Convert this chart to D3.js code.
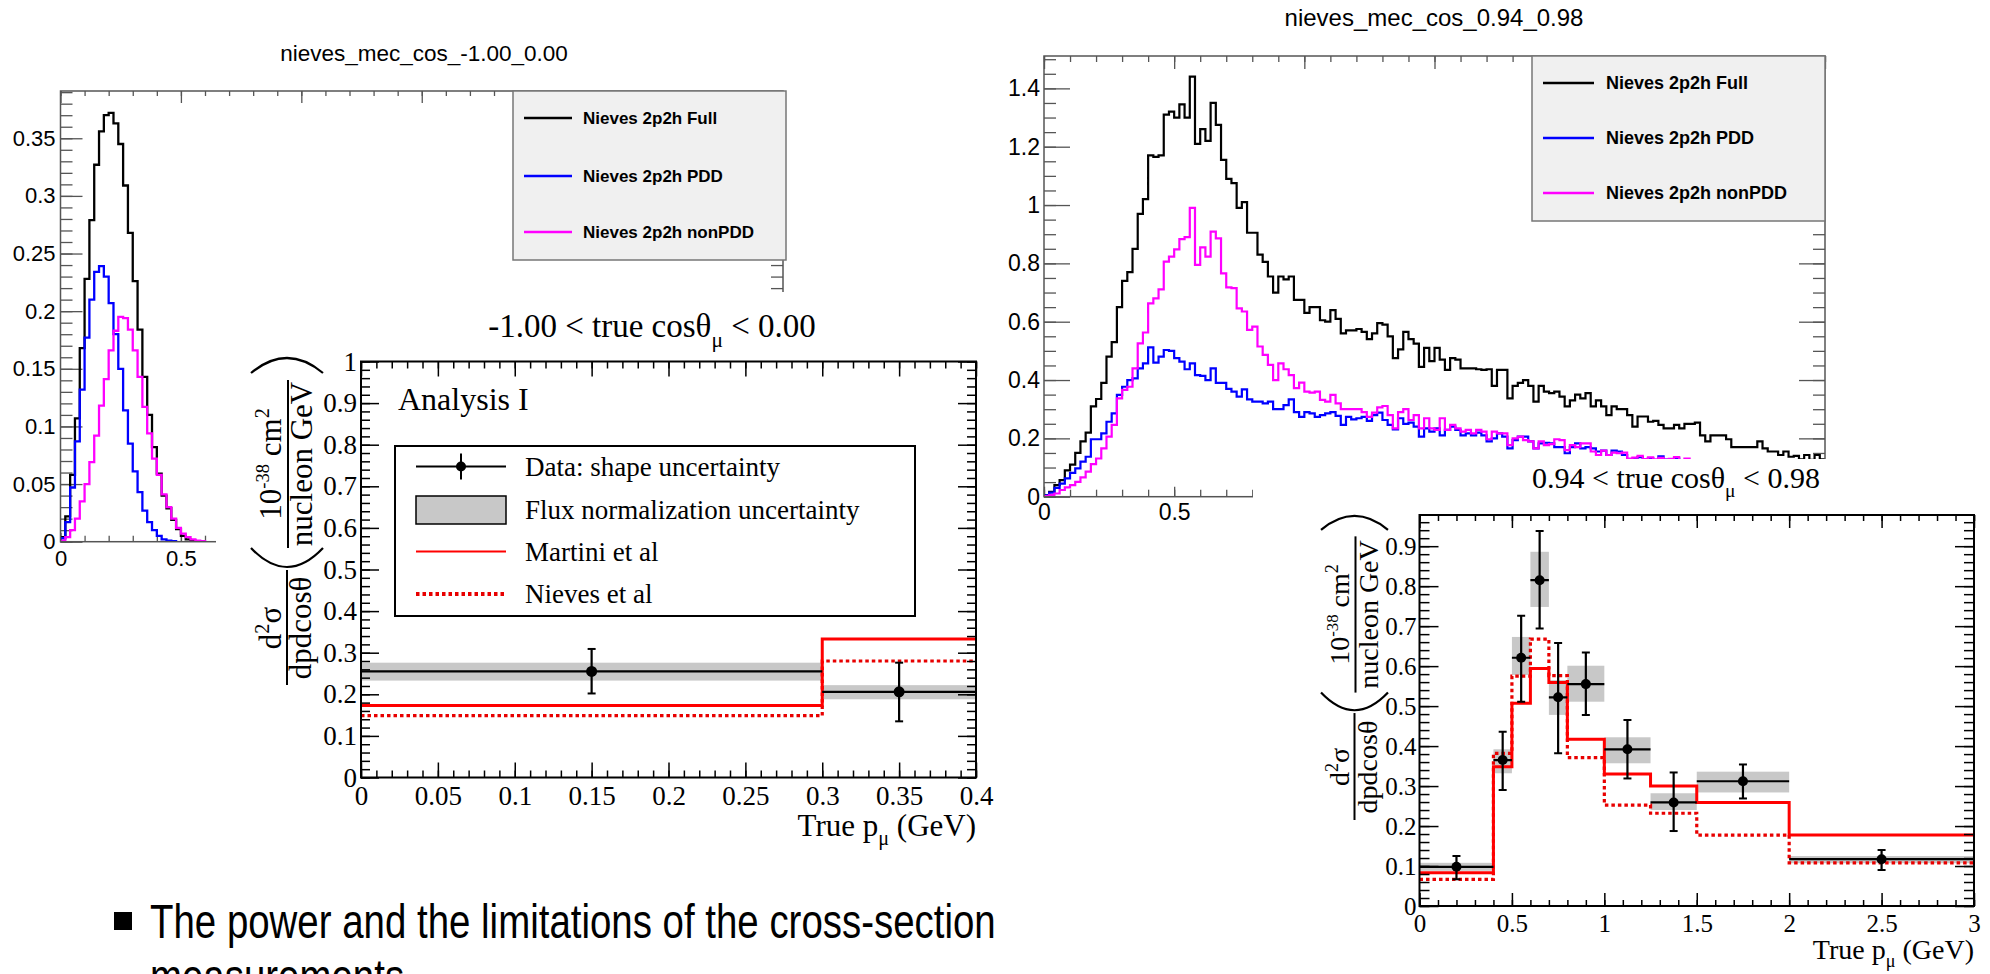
<!DOCTYPE html>
<html><head><meta charset="utf-8">
<script src="https://cdn.jsdelivr.net/npm/d3@7"></script>
<style>body{margin:0;background:#fff;}svg{display:block;}</style>
</head><body>
<svg id="c" width="1990" height="974"></svg>
<script>
// ===================== DATA =====================
// top-left histogram (-1.00 < cos < 0.00), bin width 0.02 GeV
const tlBinWidth = 0.02;
const tlFull = [0.004,0.022,0.058,0.107,0.168,0.228,0.279,0.327,0.356,0.370,0.372,0.363,0.345,0.309,0.268,0.226,0.184,0.143,0.110,0.082,0.059,0.040,0.029,0.019,0.011,0.005,0.002,0.001];
const tlPDD = [0.003,0.017,0.047,0.087,0.132,0.177,0.210,0.234,0.239,0.230,0.207,0.180,0.150,0.114,0.085,0.061,0.043,0.027,0.017,0.010,0.005,0.002,0.001,0.0005];
const tlNonPDD = [0.001,0.004,0.010,0.020,0.035,0.050,0.069,0.092,0.118,0.141,0.166,0.183,0.195,0.194,0.184,0.166,0.143,0.117,0.094,0.072,0.058,0.041,0.030,0.020,0.012,0.007,0.004,0.002,0.001,0.0005];
const tlYTicks = [0,0.05,0.1,0.15,0.2,0.25,0.3,0.35];
const tlXMajor = [0,0.5,1,1.5,2,2.5,3];
const tlXTickLabels = [0,0.5];          // the others are hidden behind the pasted plot
const tlTitle = "nieves_mec_cos_-1.00_0.00";

// top-right histogram (0.94 < cos < 0.98), bin width 0.02 GeV
const trBinWidth = 0.02;
const trFull = [0.005,0.017,0.04,0.057,0.09,0.11,0.15,0.19,0.22,0.31,
0.335,0.39,0.48,0.53,0.65,0.74,0.77,0.85,0.97,1.02,
1.17,1.165,1.17,1.31,1.32,1.30,1.345,1.30,1.44,1.21,
1.26,1.22,1.35,1.275,1.155,1.09,1.075,0.99,1.01,0.905,
0.905,0.83,0.805,0.755,0.70,0.755,0.745,0.755,0.675,0.675,
0.63,0.65,0.65,0.605,0.60,0.64,0.61,0.56,0.57,0.57,
0.575,0.565,0.54,0.56,0.595,0.59,0.55,0.475,0.505,0.565,
0.54,0.525,0.445,0.51,0.465,0.51,0.47,0.435,0.475,0.47,
0.44,0.44,0.44,0.437,0.435,0.437,0.38,0.435,
0.435,0.337,0.38,0.39,0.40,0.38,0.326,0.38,0.36,0.355,
0.36,0.343,0.31,0.33,0.35,0.337,0.355,0.31,0.33,0.31,
0.28,0.31,0.30,0.30,0.28,0.24,0.275,0.275,0.257,0.26,
0.246,0.234,0.234,0.246,0.234,0.25,0.25,0.254,0.21,0.19,
0.21,0.21,0.21,0.197,0.17,0.17,0.17,0.17,0.17,0.19,
0.166,0.155,0.155,0.143,0.155,0.137,0.14,0.128,0.143,0.126,
0.143,0.128];
const trPDD = [0.005,0.014,0.03,0.045,0.063,0.082,0.097,0.12,0.137,0.197,
0.197,0.217,0.257,0.286,0.349,0.377,0.40,0.406,0.44,0.457,
0.512,0.46,0.48,0.503,0.50,0.475,0.463,0.437,0.457,0.417,
0.414,0.40,0.44,0.39,0.39,0.37,0.36,0.343,0.368,0.334,
0.326,0.326,0.32,0.326,0.30,0.30,0.314,0.334,0.29,0.274,
0.29,0.286,0.274,0.28,0.286,0.29,0.277,0.246,0.274,0.265,
0.269,0.274,0.26,0.28,0.288,0.263,0.246,0.231,0.269,0.25,
0.254,0.24,0.206,0.234,0.223,0.234,0.21,0.229,0.24,0.229,
0.21,0.217,0.21,0.22,0.21,0.19,0.20,0.217,
0.206,0.166,0.194,0.206,0.206,0.19,0.166,0.183,0.185,0.183,
0.17,0.17,0.149,0.17,0.183,0.166,0.17,0.166,0.155,0.158,
0.143,0.158,0.155,0.143,0.128,0.13,0.136,0.128,0.132,0.125,
0.138,0.127,0.124,0.131,0.122,0.12,0.125,0.118];
const trNonPDD = [0.002,0.006,0.011,0.023,0.032,0.04,0.051,0.066,0.086,0.112,
0.131,0.166,0.206,0.246,0.337,0.366,0.377,0.44,0.526,0.563,
0.663,0.68,0.711,0.806,0.823,0.848,0.883,0.89,0.99,0.795,
0.855,0.823,0.909,0.886,0.766,0.718,0.715,0.646,0.635,0.572,
0.583,0.515,0.486,0.452,0.40,0.457,0.437,0.417,0.372,0.391,
0.36,0.357,0.36,0.332,0.326,0.349,0.32,0.30,0.30,0.30,
0.30,0.29,0.274,0.288,0.306,0.311,0.28,0.234,0.29,0.30,
0.263,0.28,0.234,0.269,0.234,0.229,0.269,0.229,0.246,0.234,
0.223,0.229,0.217,0.229,0.223,0.197,0.223,0.217,
0.217,0.177,0.20,0.206,0.194,0.19,0.166,0.19,0.177,0.18,
0.197,0.194,0.16,0.177,0.17,0.183,0.183,0.155,0.143,0.158,
0.143,0.151,0.149,0.151,0.131,0.134,0.14,0.129,0.135,0.128,
0.133,0.127,0.13,0.136,0.125,0.131,0.124,0.12];
const trYTicks = [0,0.2,0.4,0.6,0.8,1,1.2,1.4];
const trXMajor = [0,0.5,1,1.5,2,2.5,3];
const trXTickLabels = [0,0.5];          // the others are hidden behind the pasted plot
const trTitle = "nieves_mec_cos_0.94_0.98";
const histLegend = ["Nieves 2p2h Full","Nieves 2p2h PDD","Nieves 2p2h nonPDD"];

// bottom-left cross section (-1.00 < cos < 0.00)
const blEdges = [0,0.3,0.4];
const blData = [0.255,0.206];
const blErrLo = [0.202,0.135];
const blErrHi = [0.309,0.276];
const blBandLo = [0.233,0.188];
const blBandHi = [0.276,0.222];
const blMartini = [0.173,0.333];
const blNieves = [0.1485,0.280];
const blXTicks = [0,0.05,0.1,0.15,0.2,0.25,0.3,0.35,0.4];
const blYTicks = [0,0.1,0.2,0.3,0.4,0.5,0.6,0.7,0.8,0.9,1];
const blTitle = ["-1.00 < true cos\u03B8","\u03BC"," < 0.00"];
const xsecLegend = ["Data: shape uncertainty","Flux normalization uncertainty","Martini et al","Nieves et al"];

// bottom-right cross section (0.94 < cos < 0.98)
const brEdges = [0,0.4,0.5,0.6,0.7,0.8,1.0,1.25,1.5,2.0,3.0];
const brData = [0.098,0.365,0.621,0.815,0.522,0.555,0.392,0.259,0.312,0.117];
const brErrLo = [0.067,0.29,0.511,0.694,0.382,0.478,0.319,0.1875,0.269,0.09];
const brErrHi = [0.125,0.436,0.726,0.938,0.658,0.634,0.465,0.334,0.354,0.14];
const brBandLo = [0.088,0.332,0.578,0.748,0.478,0.511,0.357,0.240,0.284,0.107];
const brBandHi = [0.108,0.392,0.673,0.886,0.565,0.601,0.422,0.282,0.336,0.125];
const brMartini = [0.083,0.348,0.507,0.594,0.559,0.417,0.33,0.30,0.259,0.1775];
const brNieves = [0.0667,0.382,0.575,0.6675,0.576,0.371,0.2525,0.232,0.1775,0.108];
const brXTicks = [0,0.5,1,1.5,2,2.5,3];
const brYTicks = [0,0.1,0.2,0.3,0.4,0.5,0.6,0.7,0.8,0.9];
const brTitle = ["0.94 < true cos\u03B8","\u03BC"," < 0.98"];

const bulletLines = ["The power and the limitations of the cross-section","measurements"];

// ===================== DRAWING =====================
const SANS = "'Liberation Sans', Arial, sans-serif";
const SERIF = "'Liberation Serif', 'Times New Roman', serif";
const histColors = ["#000000","#0000ff","#ff00ff"];
const svg = d3.select('#c');
const fmt = d3.format("~g");
let clipId = 0;

function addAxis(parent, orient, scale, pos, values, len, o = {}) {
  const gen = {bottom:d3.axisBottom, top:d3.axisTop, left:d3.axisLeft, right:d3.axisRight}[orient](scale)
    .tickValues(values).tickSizeInner(-len).tickSizeOuter(0)
    .tickFormat(o.labels ? fmt : () => "").tickPadding(o.pad ?? 3);
  const tr = (orient === 'bottom' || orient === 'top') ? `translate(0,${pos})` : `translate(${pos},0)`;
  const g = parent.append('g').attr('transform', tr).call(gen);
  g.select('.domain').remove();
  g.attr('font-size', null).attr('font-family', null);
  g.selectAll('.tick line').attr('stroke', o.color || '#000').attr('stroke-width', o.sw || 1.5);
  g.selectAll('.tick text').filter(function () { return !this.textContent; }).remove();
  if (o.noLines) g.selectAll('.tick line').remove();
  g.selectAll('.tick text').attr('fill', '#000').style('font-family', o.font || SANS).style('font-size', (o.fs || 20) + 'px');
  return g;
}
function rng(a, b, s) { const out = []; for (let v = a; v <= b + 1e-9; v += s) out.push(+v.toFixed(4)); return out; }
function clip(parent, x0, y0, x1, y1) {
  const id = 'clip' + (clipId++);
  parent.append('clipPath').attr('id', id).append('rect').attr('x', x0).attr('y', y1).attr('width', x1 - x0).attr('height', y0 - y1);
  return 'url(#' + id + ')';
}
function histPts(vals, bw, closeEnd) {
  const p = [[0, 0]];
  vals.forEach((v, i) => p.push([i * bw, v]));
  p.push([vals.length * bw, vals[vals.length - 1]]);
  if (closeEnd) p.push([vals.length * bw, 0]);
  return p;
}
function stepPts(edges, vals) {
  const p = vals.map((v, i) => [edges[i], v]);
  p.push([edges[edges.length - 1], vals[vals.length - 1]]);
  return p;
}

// ---------- Histogram panel (ROOT style) ----------
function histPanel(o) {
  const g = svg.append('g');
  const x = d3.scaleLinear().domain(o.xDomain).range([o.x0, o.x1]);
  const y = d3.scaleLinear().domain(o.yDomain).range([o.y0, o.y1]);
  const fc = '#555';
  addAxis(g, 'left', y, o.x0, rng(0, o.yDomain[1], o.yMinor), o.yMinLen, {color: fc, sw: 1.3});
  addAxis(g, 'left', y, o.x0, o.yTicks, o.yMajLen, {color: fc, sw: 1.3, labels: true, pad: o.yPad, fs: o.fs});
  addAxis(g, 'right', y, o.x1, rng(0, o.yDomain[1], o.yMinor), o.yMinLen, {color: fc, sw: 1.3});
  addAxis(g, 'right', y, o.x1, o.yTicks, o.yMajLen, {color: fc, sw: 1.3});
  addAxis(g, 'bottom', x, o.y0, rng(0, 3, 0.1), o.xMinLen, {color: fc, sw: 1.3});
  addAxis(g, 'bottom', x, o.y0, o.xMajor, o.xMajLen, {color: fc, sw: 1.3});
  addAxis(g, 'bottom', x, o.y0, o.xLabels, o.xMajLen, {labels: true, noLines: true, pad: o.xPad, fs: o.fs});
  addAxis(g, 'top', x, o.y1, rng(0, 3, 0.1), o.xMinLen - 1, {color: fc, sw: 1.3});
  addAxis(g, 'top', x, o.y1, o.xMajor, o.xMajLen + 3, {color: fc, sw: 1.3});
  const cp = clip(g, o.x0, o.y0, o.x1, o.y1);
  const line = d3.line().x(d => x(d[0])).y(d => y(d[1])).curve(d3.curveStepAfter);
  o.series.forEach((s, i) => {
    g.append('path').attr('clip-path', cp).attr('d', line(histPts(s, o.bw, o.closeEnd)))
      .attr('fill', 'none').attr('stroke', histColors[i]).attr('stroke-width', o.lw);
  });
  g.append('rect').attr('x', o.x0).attr('y', o.y1).attr('width', o.x1 - o.x0).attr('height', o.y0 - o.y1)
    .attr('fill', 'none').attr('stroke', fc).attr('stroke-width', 1.5);
  g.append('text').attr('x', o.titleX).attr('y', o.titleY).attr('text-anchor', 'middle')
    .style('font-family', SANS).style('font-size', o.titleFs + 'px').text(o.title);
  const L = o.legend;
  g.append('rect').attr('x', L.x0).attr('y', L.y0).attr('width', L.x1 - L.x0).attr('height', L.y1 - L.y0)
    .attr('fill', '#f0f0f0').attr('stroke', '#777').attr('stroke-width', 1.5);
  histLegend.forEach((name, i) => {
    const yy = L.rows[i];
    g.append('line').attr('x1', L.lx0).attr('x2', L.lx1).attr('y1', yy).attr('y2', yy)
      .attr('stroke', histColors[i]).attr('stroke-width', 2.5);
    g.append('text').attr('x', L.tx).attr('y', yy + L.fs * 0.36)
      .style('font-family', SANS).style('font-weight', 'bold').style('font-size', L.fs + 'px').text(name);
  });
}

histPanel({
  x0: 60.5, x1: 783, y0: 541.7, y1: 91, xDomain: [0, 3], yDomain: [0, 0.391],
  series: [tlFull, tlPDD, tlNonPDD], bw: tlBinWidth, closeEnd: true, lw: 2.3,
  yTicks: tlYTicks, yMinor: 0.01, yMajLen: 22, yMinLen: 12, yPad: 5,
  xMajor: tlXMajor, xLabels: tlXTickLabels, xMajLen: 9, xMinLen: 6, xPad: 9, fs: 22,
  title: tlTitle, titleX: 424, titleY: 61, titleFs: 22.5,
  legend: {x0: 513, x1: 786, y0: 91, y1: 260, rows: [118, 176, 232], lx0: 524, lx1: 572, tx: 583, fs: 17}
});
histPanel({
  x0: 1044, x1: 1825, y0: 496.7, y1: 56, xDomain: [0, 3], yDomain: [0, 1.511],
  series: [trFull, trPDD, trNonPDD], bw: trBinWidth, closeEnd: false, lw: 2.2,
  yTicks: trYTicks, yMinor: 0.05, yMajLen: 26, yMinLen: 12, yPad: 4,
  xMajor: trXMajor, xLabels: trXTickLabels, xMajLen: 10, xMinLen: 7, xPad: 7, fs: 23,
  title: trTitle, titleX: 1434, titleY: 26, titleFs: 24,
  legend: {x0: 1532, x1: 1825, y0: 56, y1: 221, rows: [83, 138, 193], lx0: 1543, lx1: 1594, tx: 1606, fs: 18}
});

// ---------- white backgrounds of the pasted plots ----------
svg.append('rect').attr('x', 216).attr('y', 292).attr('width', 787).attr('height', 590).attr('fill', '#fff');
svg.append('rect').attr('x', 1253).attr('y', 459).attr('width', 737).attr('height', 515).attr('fill', '#fff');

// ---------- rotated y label ----------
function yLabel(barX, bottomY, s, fs) {
  const g = svg.append('g').attr('transform', `translate(${barX},${bottomY}) rotate(-90)`)
    .style('font-family', SERIF).style('font-size', fs + 'px').attr('fill', '#000');
  const sw = 2;
  g.append('line').attr('x1', 0).attr('x2', 115 * s).attr('y1', 0).attr('y2', 0).attr('stroke', '#000').attr('stroke-width', sw);
  const n1 = g.append('text').attr('x', 57 * s).attr('y', -6 * s).attr('text-anchor', 'middle');
  n1.append('tspan').text('d');
  n1.append('tspan').attr('dy', -0.38 * fs).style('font-size', (0.65 * fs) + 'px').text('2');
  n1.append('tspan').attr('dy', 0.38 * fs).text('\u03C3');
  g.append('text').attr('x', 57 * s).attr('y', 24 * s).attr('text-anchor', 'middle').text('dpdcos\u03B8');
  g.append('path').attr('d', `M${137 * s},${-36 * s} Q${99 * s},0 ${137 * s},${36 * s}`).attr('fill', 'none').attr('stroke', '#000').attr('stroke-width', 2.2);
  g.append('path').attr('d', `M${312 * s},${-36 * s} Q${342 * s},0 ${312 * s},${36 * s}`).attr('fill', 'none').attr('stroke', '#000').attr('stroke-width', 2.2);
  g.append('line').attr('x1', 137 * s).attr('x2', 305 * s).attr('y1', 1).attr('y2', 1).attr('stroke', '#000').attr('stroke-width', sw);
  const n2 = g.append('text').attr('x', 221 * s).attr('y', -6 * s).attr('text-anchor', 'middle');
  n2.append('tspan').text('10');
  n2.append('tspan').attr('dy', -0.4 * fs).style('font-size', (0.6 * fs) + 'px').text('-38');
  n2.append('tspan').attr('dy', 0.4 * fs).text(' cm');
  n2.append('tspan').attr('dy', -0.4 * fs).style('font-size', (0.65 * fs) + 'px').text('2');
  g.append('text').attr('x', 221 * s).attr('y', 25 * s).attr('text-anchor', 'middle').text('nucleon GeV');
}

// ---------- cross-section panel ----------
function xsecPanel(o) {
  const g = svg.append('g');
  const x = d3.scaleLinear().domain(o.xDomain).range([o.x0, o.x1]);
  const y = d3.scaleLinear().domain(o.yDomain).range([o.y0, o.y1]);
  const cp = clip(g, o.x0, o.y0, o.x1, o.y1);
  const pg = g.append('g').attr('clip-path', cp);
  const n = o.data.length;
  const E = o.edges;
  for (let i = 0; i < n; i++) {
    pg.append('rect').attr('x', x(E[i])).attr('width', x(E[i + 1]) - x(E[i]))
      .attr('y', y(o.bandHi[i])).attr('height', y(o.bandLo[i]) - y(o.bandHi[i])).attr('fill', '#c8c8c8');
  }
  const line = d3.line().x(d => x(d[0])).y(d => y(d[1])).curve(d3.curveStepAfter);
  pg.append('path').attr('d', line(stepPts(E, o.nieves))).attr('fill', 'none').attr('stroke', '#e80000')
    .attr('stroke-width', 3.2).attr('stroke-dasharray', '3.5,3');
  pg.append('path').attr('d', line(stepPts(E, o.martini))).attr('fill', 'none').attr('stroke', '#ff0000')
    .attr('stroke-width', 3);
  for (let i = 0; i < n; i++) {
    const cx = x((E[i] + E[i + 1]) / 2);
    pg.append('line').attr('x1', x(E[i])).attr('x2', x(E[i + 1])).attr('y1', y(o.data[i])).attr('y2', y(o.data[i]))
      .attr('stroke', '#000').attr('stroke-width', 2.2);
    pg.append('line').attr('x1', cx).attr('x2', cx).attr('y1', y(o.errLo[i])).attr('y2', y(o.errHi[i]))
      .attr('stroke', '#000').attr('stroke-width', 2.2);
    [o.errLo[i], o.errHi[i]].forEach(v => pg.append('line').attr('x1', cx - 4).attr('x2', cx + 4)
      .attr('y1', y(v)).attr('y2', y(v)).attr('stroke', '#000').attr('stroke-width', 2));
    pg.append('circle').attr('cx', cx).attr('cy', y(o.data[i])).attr('r', o.r).attr('fill', '#000');
  }
  addAxis(g, 'left', y, o.x0, rng(0, o.yDomain[1], 0.02), o.yMinLen, {});
  addAxis(g, 'left', y, o.x0, o.yTicks, o.yMajLen, {labels: true, pad: o.yPad, fs: o.fs, font: SERIF});
  addAxis(g, 'right', y, o.x1, rng(0, o.yDomain[1], 0.02), o.yMinLen, {});
  addAxis(g, 'right', y, o.x1, o.yTicks, o.yMajLen, {});
  addAxis(g, 'bottom', x, o.y0, rng(0, o.xDomain[1], o.xMinor), o.xMinLen, {});
  addAxis(g, 'bottom', x, o.y0, o.xTicks, o.xMajLen, {labels: true, pad: o.xPad, fs: o.fs, font: SERIF});
  addAxis(g, 'top', x, o.y1, rng(0, o.xDomain[1], o.xMinor), o.xMinLen, {});
  addAxis(g, 'top', x, o.y1, o.xTicks, o.xMajLen, {});
  g.append('rect').attr('x', o.x0).attr('y', o.y1).attr('width', o.x1 - o.x0).attr('height', o.y0 - o.y1)
    .attr('fill', 'none').attr('stroke', '#000').attr('stroke-width', 2);
  const t = g.append('text').attr('x', o.titleX).attr('y', o.titleY).attr('text-anchor', 'middle')
    .style('font-family', SERIF).style('font-size', o.titleFs + 'px');
  t.append('tspan').text(o.title[0]);
  t.append('tspan').attr('dy', 0.3 * o.titleFs).style('font-size', (0.65 * o.titleFs) + 'px').text(o.title[1]);
  t.append('tspan').attr('dy', -0.3 * o.titleFs).text(o.title[2]);
  const xl = g.append('text').attr('x', o.x1).attr('y', o.xlabY).attr('text-anchor', 'end')
    .style('font-family', SERIF).style('font-size', o.xlabFs + 'px');
  xl.append('tspan').text('True p');
  xl.append('tspan').attr('dy', 0.3 * o.xlabFs).style('font-size', (0.65 * o.xlabFs) + 'px').text('\u03BC');
  xl.append('tspan').attr('dy', -0.3 * o.xlabFs).text(' (GeV)');
  return {g, x, y};
}

const bl = xsecPanel({
  x0: 361, x1: 976, y0: 777.5, y1: 361.5, xDomain: [0, 0.4], yDomain: [0, 1],
  edges: blEdges, data: blData, errLo: blErrLo, errHi: blErrHi, bandLo: blBandLo, bandHi: blBandHi,
  martini: blMartini, nieves: blNieves, r: 5.5,
  yTicks: blYTicks, yMajLen: 18, yMinLen: 9, yPad: 4, xTicks: blXTicks, xMinor: 0.01, xMajLen: 15, xMinLen: 7, xPad: 8, fs: 27,
  title: blTitle, titleX: 652, titleY: 337, titleFs: 33, xlabY: 836, xlabFs: 31
});
yLabel(287, 685, 1, 31);

{
  const g = bl.g;
  g.append('text').attr('x', 398).attr('y', 410).style('font-family', SERIF).style('font-size', '32px').text('Analysis I');
  g.append('rect').attr('x', 395).attr('y', 446).attr('width', 520).attr('height', 170).attr('fill', '#fff').attr('stroke', '#000').attr('stroke-width', 2);
  const rows = [466.5, 510, 551.6, 594];
  g.append('line').attr('x1', 416).attr('x2', 506).attr('y1', rows[0]).attr('y2', rows[0]).attr('stroke', '#000').attr('stroke-width', 2);
  g.append('line').attr('x1', 461).attr('x2', 461).attr('y1', rows[0] - 13).attr('y2', rows[0] + 13).attr('stroke', '#000').attr('stroke-width', 2);
  g.append('circle').attr('cx', 461).attr('cy', rows[0]).attr('r', 5).attr('fill', '#000');
  g.append('rect').attr('x', 416).attr('y', 496).attr('width', 90).attr('height', 28).attr('fill', '#c8c8c8').attr('stroke', '#000').attr('stroke-width', 1.5);
  g.append('line').attr('x1', 416).attr('x2', 506).attr('y1', rows[2]).attr('y2', rows[2]).attr('stroke', '#ff0000').attr('stroke-width', 2);
  g.append('line').attr('x1', 416).attr('x2', 506).attr('y1', rows[3]).attr('y2', rows[3]).attr('stroke', '#e80000').attr('stroke-width', 4).attr('stroke-dasharray', '3.5,3');
  xsecLegend.forEach((s, i) => g.append('text').attr('x', 525).attr('y', rows[i] + 9)
    .style('font-family', SERIF).style('font-size', '27px').text(s));
}

xsecPanel({
  x0: 1419.5, x1: 1974, y0: 906, y1: 515, xDomain: [0, 3], yDomain: [0, 0.978],
  edges: brEdges, data: brData, errLo: brErrLo, errHi: brErrHi, bandLo: brBandLo, bandHi: brBandHi,
  martini: brMartini, nieves: brNieves, r: 5,
  yTicks: brYTicks, yMajLen: 19, yMinLen: 10, yPad: 3, xTicks: brXTicks, xMinor: 0.1, xMajLen: 13, xMinLen: 6, xPad: 8, fs: 25,
  title: brTitle, titleX: 1676, titleY: 488, titleFs: 30, xlabY: 959, xlabFs: 28
});
yLabel(1354.5, 820, 0.93, 28);

// ---------- bullet text ----------
{
  svg.append('rect').attr('x', 114).attr('y', 912).attr('width', 18).attr('height', 18).attr('fill', '#000');
  const g = svg.append('g');
  const t1 = g.append('text').attr('x', 150).attr('y', 938).style('font-family', SANS).style('font-size', '48px').text(bulletLines[0]);
  g.append('text').attr('x', 150).attr('y', 993).style('font-family', SANS).style('font-size', '48px').text(bulletLines[1]);
  const w = t1.node().getComputedTextLength();
  const sx = 846 / w;
  g.attr('transform', `translate(150,0) scale(${sx},1) translate(-150,0)`);
}
</script>
</body></html>
